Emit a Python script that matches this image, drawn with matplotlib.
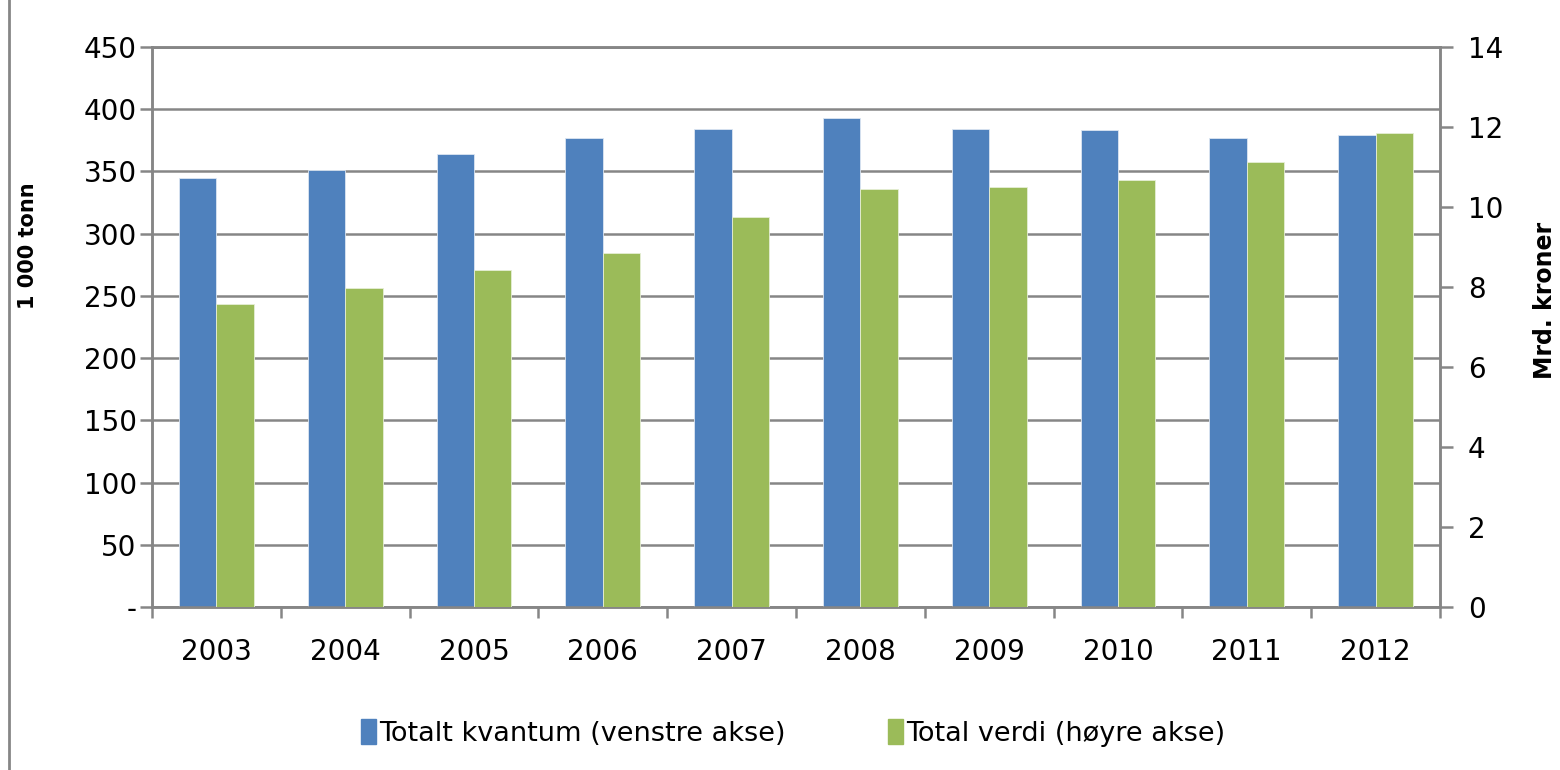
import matplotlib
matplotlib.use("Agg")
import matplotlib.pyplot as plt
from matplotlib.ticker import FixedLocator, FixedFormatter
from matplotlib.patches import Patch, Rectangle
import numpy as np

years = ["2003", "2004", "2005", "2006", "2007", "2008", "2009", "2010", "2011", "2012"]
kvantum = [345, 351, 364, 377, 384, 393, 384, 383, 377, 379]          # 1000 tonn
verdi = [7.58, 7.97, 8.42, 8.85, 9.75, 10.45, 10.5, 10.68, 11.13, 11.85]  # mrd. kroner

left_ticks = [0, 50, 100, 150, 200, 250, 300, 350, 400, 450]
left_labels = ["-", "50", "100", "150", "200", "250", "300", "350", "400", "450"]
right_ticks = [0, 2, 4, 6, 8, 10, 12, 14]

blue = "#4F81BD"
green = "#9BBB59"
gray = "#868686"

plt.rcParams['font.family'] = ['DejaVu Sans']

fig = plt.figure(figsize=(15.6, 7.7), dpi=100)
ax = fig.add_axes([152/1560, 1 - 607/770, (1440 - 152)/1560, (607 - 47)/770])
ax2 = ax.twinx()

x = np.arange(len(years))
w = 0.29
ax.bar(x - w/2, kvantum, w, color=blue, edgecolor="#dce6f2", linewidth=0.6, zorder=3)
ax2.bar(x + w/2, verdi, w, color=green, edgecolor="#e6eed5", linewidth=0.6, zorder=3)

ax.set_xlim(-0.5, len(years) - 0.5)
ax.set_ylim(0, 450)
ax2.set_ylim(0, 14)

ax.yaxis.set_major_locator(FixedLocator(left_ticks))
ax.yaxis.set_major_formatter(FixedFormatter(left_labels))
ax2.set_yticks(right_ticks)

ax.set_xticks(x)
ax.set_xticklabels(years)
ax.set_xticks(np.arange(-0.5, len(years)), minor=True)
ax.tick_params(axis="x", which="major", length=0, pad=22, labelsize=20)
ax.tick_params(axis="x", which="minor", length=8, width=1.8, color=gray, direction="out")
ax.tick_params(axis="y", length=9, width=1.8, color=gray, direction="out", labelsize=20, pad=2)
ax2.tick_params(axis="y", length=9, width=1.8, color=gray, direction="out", labelsize=20, pad=11)

ax.grid(axis="y", color=gray, linewidth=1.8, zorder=0)
ax.set_axisbelow(True)

for a in (ax, ax2):
    for s in a.spines.values():
        s.set_color(gray)
        s.set_linewidth(1.8)

fig.text(28/1560, 1 - 246/770, "1 000 tonn", rotation=90, ha="center", va="center",
         fontsize=15, fontweight="bold")
fig.text(1545/1560, 1 - 300/770, "Mrd. kroner", rotation=90, ha="center", va="center",
         fontsize=17, fontweight="bold")

handles = [Patch(color=blue, label="Totalt kvantum (venstre akse)"),
           Patch(color=green, label="Total verdi (høyre akse)")]
fig.legend(handles=handles, loc="center", bbox_to_anchor=(793/1560, 1 - 733/770),
           ncol=2, frameon=False, fontsize=19.5, handlelength=0.55, handleheight=1.0,
           handletextpad=0.1, columnspacing=3.8)

# chart area border
fig.patches.append(Rectangle((9/1560, -0.01), 1.1, 1.1, transform=fig.transFigure,
                             fill=False, edgecolor=gray, linewidth=2))

fig.savefig("out.png", dpi=100)
